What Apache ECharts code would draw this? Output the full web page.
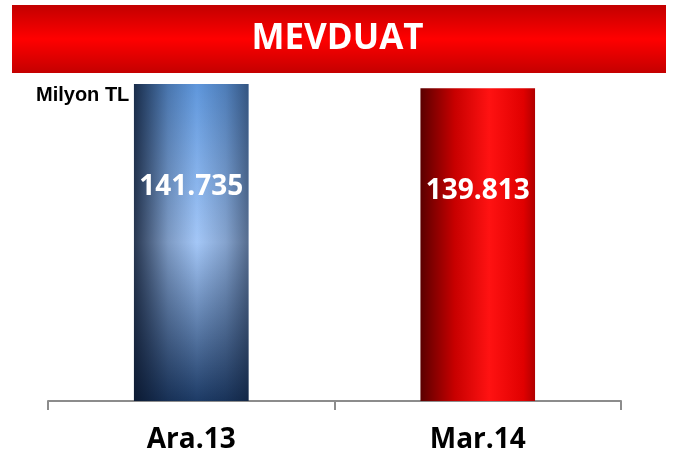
<!DOCTYPE html>
<html>
<head>
<meta charset="utf-8">
<script src="https://cdn.jsdelivr.net/npm/echarts@6/dist/echarts.min.js"></script>
<style>
  html, body { margin: 0; padding: 0; background: #fff; }
  #chart { width: 675px; height: 457px; }
</style>
</head>
<body>
<div id="chart"></div>
<script>
// kategori ve degerler (Milyon TL)
var categories = ['Ara.13', 'Mar.14'];
var values = [141.735, 139.813];
var valueLabels = ['141.735', '139.813'];

var chart = echarts.init(document.getElementById('chart'));

// cubuk renkleri: ana dikey gecis + yatay golge katmani
var lin = function(x2, y2, stops) {
  return new echarts.graphic.LinearGradient(0, 0, x2, y2, stops.map(function(s) {
    return { offset: s[0], color: s[1] };
  }));
};
var baseColors = [
  lin(0, 1, [[0, '#5f97dc'], [0.5, '#a4c7f7'], [1, '#1d3b66']]),
  lin(1, 0, [[0, '#5a0000'], [0.3, '#c80000'], [0.6, '#ff1212'], [0.9, '#e00000'], [1, '#b00000']])
];
var shadeColors = [
  lin(1, 0, [[0, 'rgba(8,18,38,0.8)'], [0.3, 'rgba(8,18,38,0.25)'], [0.55, 'rgba(8,18,38,0)'], [0.8, 'rgba(8,18,38,0.2)'], [1, 'rgba(8,18,38,0.5)']]),
  lin(1, 0, [[0, 'rgba(0,0,0,0)'], [1, 'rgba(0,0,0,0)']])
];

var baseData = values.map(function(v, i) {
  return { value: v, itemStyle: { color: baseColors[i] } };
});
var shadeData = values.map(function(v, i) {
  return { value: v, itemStyle: { color: shadeColors[i] }, label: { formatter: valueLabels[i] } };
});

var option = {
  animation: false,
  graphic: [{
    type: 'rect',
    z: -1,
    shape: { x: 12, y: 5, width: 654, height: 68 },
    style: { fill: lin(0, 1, [[0, '#c20000'], [0.5, '#ff0000'], [1, '#c40000']]) }
  }],
  title: [{
    text: 'MEVDUAT',
    left: 'center',
    top: 17,
    textStyle: { color: '#fff', fontSize: 35, fontWeight: 'bold', fontFamily: 'Open Sans' }
  }, {
    text: 'Milyon TL',
    left: 31,
    top: 80,
    textStyle: { color: '#000', fontSize: 20, fontWeight: 'bold', fontFamily: 'Liberation Sans' }
  }],
  grid: { left: 48, right: 54, top: 84, bottom: 56 },
  xAxis: {
    type: 'category',
    data: categories,
    axisLine: { lineStyle: { color: '#8c8c8c', width: 2 } },
    axisTick: { show: true, length: 9, lineStyle: { color: '#8c8c8c', width: 2 } },
    axisLabel: { color: '#000', fontSize: 28, fontWeight: 'bold', fontFamily: 'Open Sans', margin: 25 }
  },
  yAxis: { type: 'value', min: 0, max: 141.735, show: false },
  series: [{
    type: 'bar',
    barWidth: '40%',
    data: baseData
  }, {
    type: 'bar',
    barWidth: '40%',
    barGap: '-100%',
    data: shadeData,
    label: {
      show: true,
      position: 'insideTop',
      distance: 89,
      color: '#fff',
      fontSize: 28,
      fontWeight: 'bold',
      fontFamily: 'Open Sans'
    }
  }]
};

chart.setOption(option);
</script>
</body>
</html>
